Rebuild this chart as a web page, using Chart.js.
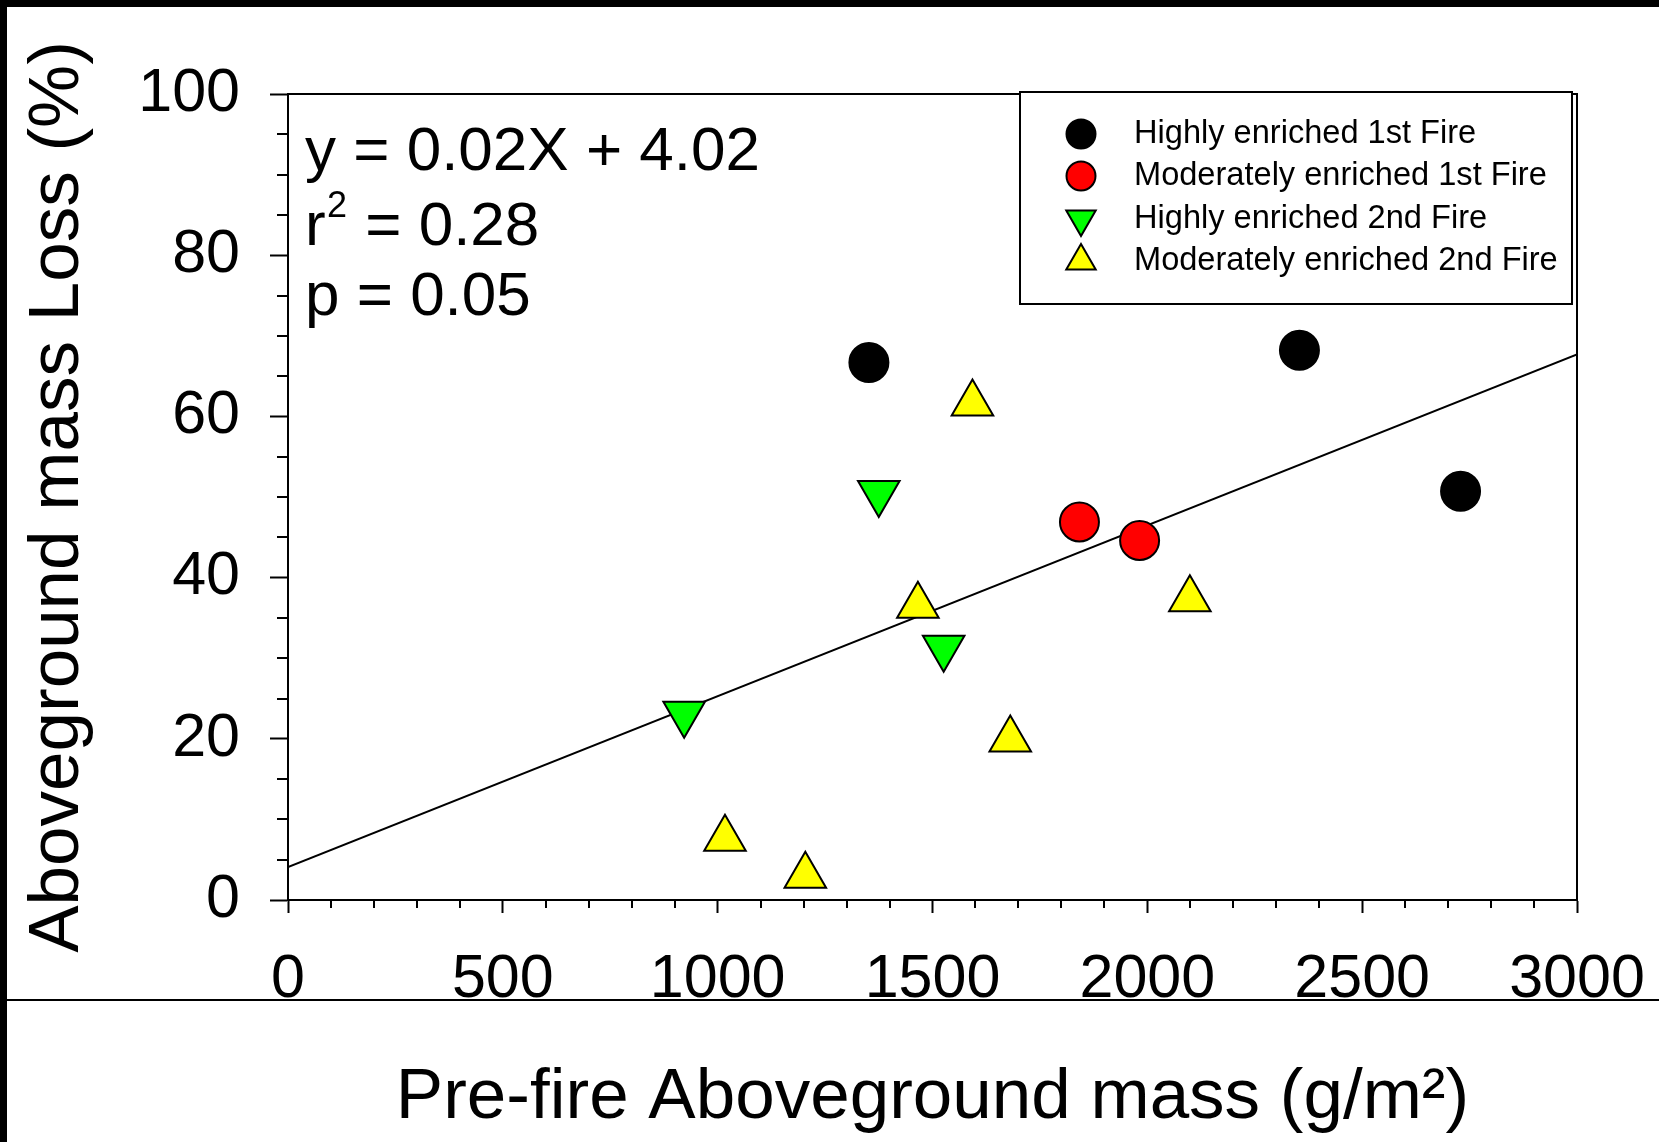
<!DOCTYPE html>
<html>
<head>
<meta charset="utf-8">
<script src="https://cdn.jsdelivr.net/npm/chart.js@4.4.0/dist/chart.umd.min.js"></script>
<style>
  html, body { margin: 0; padding: 0; background: #fff; }
</style>
</head>
<body>
<canvas id="myChart" width="1659" height="1142"></canvas>
<script>
// pre-fire mass (g/m2) and mass loss (%) per group
var highly1stX = [1352, 2354, 2729];
var highly1stY = [66.7, 68.2, 50.7];
var moderate1stX = [1842, 1982];
var moderate1stY = [46.9, 44.6];
var highly2ndX = [922, 1375, 1526];
var highly2ndY = [23.1, 50.5, 31.3];
var moderate2ndX = [1017, 1204, 1466, 1593, 1681, 2099];
var moderate2ndY = [7.6, 3.0, 36.5, 61.6, 19.9, 37.3];
// regression line end points
var fitX = [0, 3000];
var fitY = [4.1, 67.7];

var xTickValues = [0, 500, 1000, 1500, 2000, 2500, 3000];
var yTickValues = [0, 20, 40, 60, 80, 100];

var seriesNames = [
  "Highly enriched 1st Fire",
  "Moderately enriched 1st Fire",
  "Highly enriched 2nd Fire",
  "Moderately enriched 2nd Fire"
];
var statLines = ["y = 0.02X + 4.02", "0.28", "p = 0.05"];

var FONT = "'Liberation Sans', Arial, Helvetica, sans-serif";

function pts(xs, ys) {
  return xs.map(function (x, i) { return { x: x, y: ys[i] }; });
}

// frame, minor ticks, stats text and boxed legend
var extras = {
  id: "extras",
  beforeDraw: function (chart) {
    var c = chart.ctx;
    c.save();
    c.fillStyle = "#fff";
    c.fillRect(0, 0, chart.width, chart.height);
    c.restore();
  },
  afterDraw: function (chart) {
    var c = chart.ctx;
    var xs = chart.scales.x, ys = chart.scales.y;
    var area = chart.chartArea;
    c.save();

    // minor ticks
    c.strokeStyle = "#000";
    c.lineWidth = 2;
    c.beginPath();
    for (var v = 5; v < 100; v += 5) {
      if (v % 20 === 0) continue;
      var py = Math.round(ys.getPixelForValue(v));
      c.moveTo(area.left - 11, py);
      c.lineTo(area.left, py);
    }
    for (var w = 100; w < 3000; w += 100) {
      if (w % 500 === 0) continue;
      var px = Math.round(xs.getPixelForValue(w));
      c.moveTo(px, area.bottom);
      c.lineTo(px, area.bottom + 8);
    }
    c.stroke();

    // regression stats
    c.fillStyle = "#000";
    c.textBaseline = "alphabetic";
    c.textAlign = "left";
    c.font = "62px " + FONT;
    c.fillText(statLines[0], 305, 170);
    c.fillText("r", 305, 245);
    c.font = "36px " + FONT;
    c.fillText("2", 327, 217);
    c.font = "62px " + FONT;
    c.fillText(" = " + statLines[1], 348, 245);
    c.fillText(statLines[2], 305, 315);

    // legend box
    var bx = 1020, by = 92, bw = 552, bh = 212;
    c.fillStyle = "#fff";
    c.fillRect(bx, by, bw, bh);
    c.strokeStyle = "#000";
    c.lineWidth = 2;
    c.strokeRect(bx, by, bw, bh);

    var rows = [134, 176, 219, 261];
    var radii = [14.5, 14.5, 17, 17];
    chart.data.datasets.slice(0, 4).forEach(function (ds, i) {
      c.fillStyle = ds.backgroundColor;
      c.strokeStyle = ds.borderColor;
      c.lineWidth = 2;
      Chart.helpers.drawPoint(c, {
        pointStyle: ds.pointStyle,
        rotation: ds.rotation || 0,
        radius: radii[i],
        borderWidth: 2
      }, 1081, rows[i]);
      c.fillStyle = "#000";
      c.font = "32.6px " + FONT;
      c.textBaseline = "middle";
      c.fillText(seriesNames[i], 1134, rows[i]);
    });

    // black edge bars and the cut line across the bottom
    c.fillStyle = "#000";
    c.fillRect(0, 0, chart.width, 7);
    c.fillRect(0, 0, 7, chart.height);
    c.fillRect(7, 999, chart.width - 7, 2);
    c.restore();
  }
};

var ctx = document.getElementById("myChart").getContext("2d");
var myChart = new Chart(ctx, {
  type: "scatter",
  data: {
    datasets: [
      {
        label: seriesNames[0],
        data: pts(highly1stX, highly1stY),
        pointStyle: "circle",
        pointRadius: 19.5,
        backgroundColor: "#000000",
        borderColor: "#000000",
        borderWidth: 2
      },
      {
        label: seriesNames[1],
        data: pts(moderate1stX, moderate1stY),
        pointStyle: "circle",
        pointRadius: 19.5,
        backgroundColor: "#ff0000",
        borderColor: "#000000",
        borderWidth: 2
      },
      {
        label: seriesNames[2],
        data: pts(highly2ndX, highly2ndY),
        pointStyle: "triangle",
        rotation: 180,
        pointRotation: 180,
        pointRadius: 24,
        backgroundColor: "#00ff00",
        borderColor: "#000000",
        borderWidth: 2
      },
      {
        label: seriesNames[3],
        data: pts(moderate2ndX, moderate2ndY),
        pointStyle: "triangle",
        pointRadius: 24,
        backgroundColor: "#ffff00",
        borderColor: "#000000",
        borderWidth: 2
      },
      {
        type: "line",
        label: "fit",
        data: pts(fitX, fitY),
        borderColor: "#000000",
        borderWidth: 2,
        pointRadius: 0,
        fill: false
      }
    ]
  },
  options: {
    responsive: false,
    animation: false,
    devicePixelRatio: 1,
    layout: { padding: 0 },
    plugins: {
      legend: { display: false },
      tooltip: { enabled: false }
    },
    scales: {
      x: {
        type: "linear",
        position: "bottom",
        min: 0,
        max: 3000,
        afterBuildTicks: function (s) { s.ticks = xTickValues.map(function (v) { return { value: v }; }); },
        afterFit: function (s) { s.height = 242; s.paddingLeft = 0; s.paddingRight = 0; },
        ticks: {
          color: "#000",
          font: { family: FONT, size: 61 },
          padding: 31,
          maxRotation: 0,
          autoSkip: false,
          callback: function (v) { return String(v); }
        },
        grid: { drawOnChartArea: false, tickLength: 13, tickWidth: 2, tickColor: "#000" },
        border: { display: true, color: "#000", width: 2 },
        title: {
          display: true,
          text: "Pre-fire Aboveground mass (g/m²)",
          color: "#000",
          font: { family: FONT, size: 71 },
          padding: { top: 0, bottom: 1 }
        }
      },
      y: {
        type: "linear",
        position: "left",
        min: 0,
        max: 100,
        afterBuildTicks: function (s) { s.ticks = yTickValues.map(function (v) { return { value: v }; }); },
        afterFit: function (s) { s.width = 288; },
        ticks: {
          color: "#000",
          font: { family: FONT, size: 61 },
          padding: 30,
          callback: function (v) { return String(v); }
        },
        grid: { drawOnChartArea: false, tickLength: 18, tickWidth: 2, tickColor: "#000" },
        border: { display: true, color: "#000", width: 2 },
        title: {
          display: true,
          text: "Aboveground mass Loss (%)",
          color: "#000",
          font: { family: FONT, size: 71 },
          padding: { top: 16, bottom: 0 }
        }
      },
      xTop: {
        type: "linear",
        position: "top",
        afterFit: function (s) { s.height = 94; },
        ticks: { display: false },
        grid: { drawOnChartArea: false, drawTicks: false },
        border: { display: true, color: "#000", width: 2 }
      },
      yRight: {
        type: "linear",
        position: "right",
        afterFit: function (s) { s.width = 82; },
        ticks: { display: false },
        grid: { drawOnChartArea: false, drawTicks: false },
        border: { display: true, color: "#000", width: 2 }
      }
    }
  },
  plugins: [extras]
});
</script>
</body>
</html>
